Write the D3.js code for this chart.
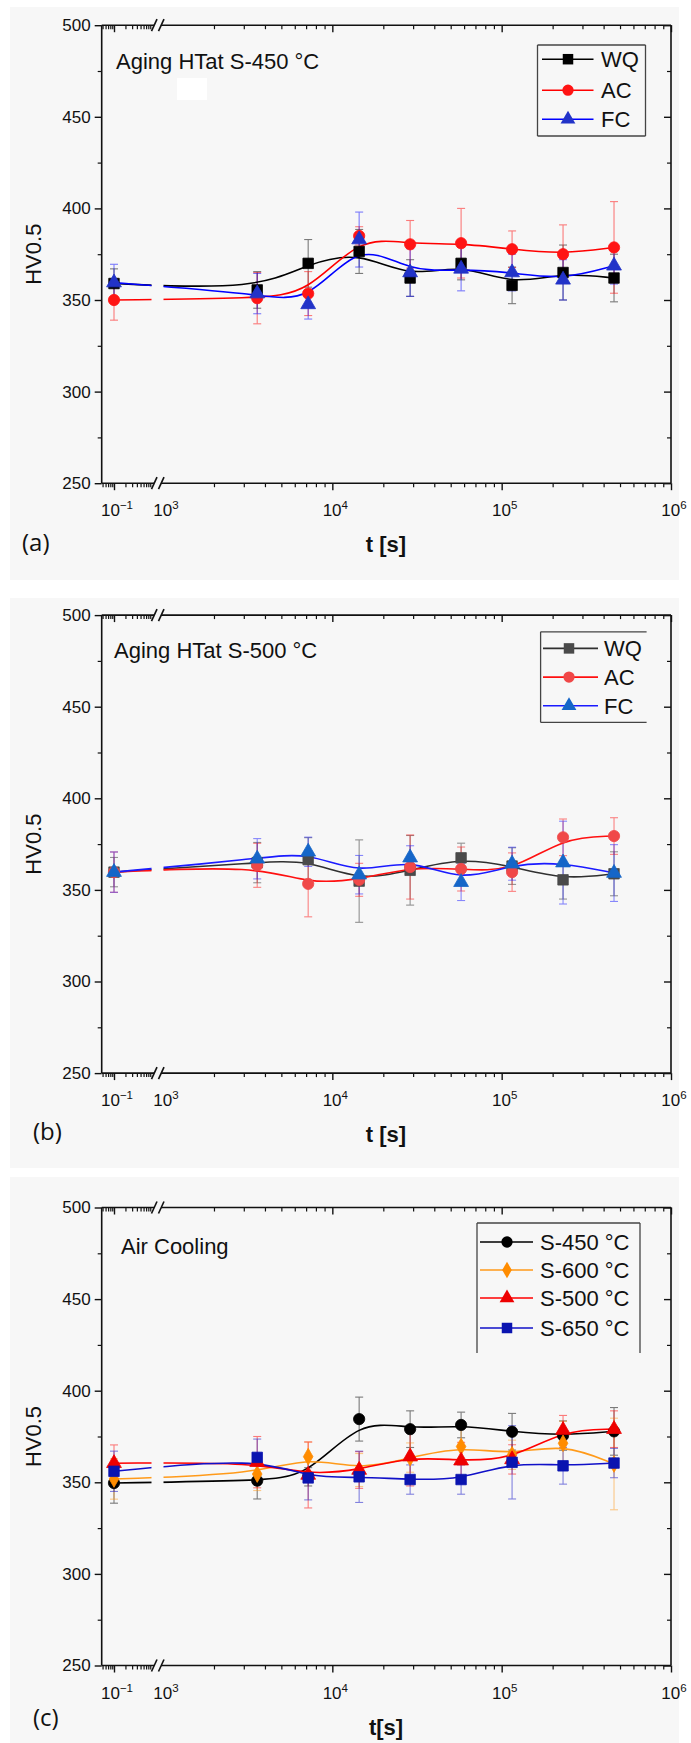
<!DOCTYPE html>
<html><head><meta charset="utf-8">
<script src="https://cdn.jsdelivr.net/npm/d3@7"></script>
<style>body{margin:0;background:#fff}svg{display:block}</style>
</head><body>
<svg id="chart" width="691" height="1743"></svg>
<script>
// ---------------- DATA ----------------
const times = [0.1, 3600, 7200, 14400, 28800, 57600, 115200, 230400, 460800];
const yTicks = [250, 300, 350, 400, 450, 500];
const yMinorTicks = [275, 325, 375, 425, 475];
const xTickValues = [0.1, 1e3, 1e4, 1e5, 1e6];
const xTickExponents = ["\u22121", "3", "4", "5", "6"];
const panelLabels = ["(a)", "(b)", "(c)"];
const annotations = ["Aging HTat S-450 \u00B0C", "Aging HTat S-500 \u00B0C", "Air Cooling"];
const xTitles = ["t [s]", "t [s]", "t[s]"];
const yTitle = "HV0.5";

const namesAB = ["WQ", "AC", "FC"];
const namesC = ["S-450 \u00B0C", "S-600 \u00B0C", "S-500 \u00B0C", "S-650 \u00B0C"];

// panel (a) Aging at S-450
const aWQ = [359, 355.5, 370, 376.5, 362, 370, 358, 365, 362];
const aWQerr = [8, 10, 13, 12, 10, 9, 10, 15, 13];
const aAC = [350, 351, 353.5, 385, 380.4, 381, 377.7, 375, 378.7];
const aACerr = [11, 14, 12, 5, 13, 19, 10, 16, 25];
const aFC = [359.5, 353.5, 347.6, 383, 365, 367, 365, 361, 368.7];
const aFCerr = [10, 11, 8, 15, 13, 12, 10, 11, 10];

// panel (b) Aging at S-500
const bWQ = [359.7, 364.9, 366.5, 354.8, 360.7, 367.5, 363, 355.5, 358.8];
const bWQerr = [8, 11, 12, 22.5, 19, 8, 10, 10.5, 12];
const bAC = [359.7, 363.4, 353.3, 355.5, 362.5, 361.4, 359.7, 378.7, 379.4];
const bACerr = [11, 12, 18, 9, 17.5, 12, 10.5, 10, 10];
const bFC = [359.7, 367, 370.8, 358.3, 367.6, 354.2, 364.3, 364.9, 359.2];
const bFCerr = [11, 11, 8, 10.5, 6.5, 10, 9, 22.6, 15.5];

// panel (c) Air cooling
const c450 = [349.6, 350.9, 353, 384.5, 379, 381.3, 377.6, 375.5, 377.8];
const c450err = [11, 10, 5, 12, 10, 7, 10, 8, 13];
const c600 = [351.8, 354.5, 364, 356.7, 363.5, 369.5, 365, 371.3, 360];
const c600err = [11, 9, 8, 9, 8, 10, 8, 12, 25];
const c500 = [360.4, 361, 354, 356.7, 364, 361.8, 362.5, 378.5, 379];
const c500err = [10, 14, 18, 10, 16, 10, 8, 8, 10];
const c650 = [356, 363.6, 352.4, 353, 351.5, 351.5, 360.9, 359, 360.5];
const c650err = [11, 10, 12, 14, 8, 8, 20, 10, 8];

// ---------------- LAYOUT / STYLE ----------------
const PL = 101.7, PR = 671, PH = 458;
const FONT = "'Liberation Sans', Arial, sans-serif";

const panels = [
  { top: 25.2, bg: [10, 7, 669, 573], labelXY: [22, 551],
    annXY: [116, 69], legend: { x: 537.5, y: 45, w: 108, h: 91, rows: [34, 65, 94], lx: [542, 593.5], mx: 568, tx: 601, sides: "tlbr" },
    patch: [177, 78, 30, 22],
    series: [
      { name: namesAB[0], v: aWQ, e: aWQerr, line: "#000", fill: "#000", sym: d3.symbolSquare, size: 110 },
      { name: namesAB[1], v: aAC, e: aACerr, line: "#ff0000", fill: "#ff1414", sym: d3.symbolCircle, size: 100 },
      { name: namesAB[2], v: aFC, e: aFCerr, line: "#0000ff", fill: "#2233c8", sym: d3.symbolTriangle, size: 95 }
    ] },
  { top: 615.1, bg: [10, 598, 669, 570], labelXY: [33, 1140],
    annXY: [114, 658], legend: { x: 540.6, y: 631.8, w: 106, h: 90.6, rows: [33.3, 62, 90.7], lx: [543, 598], mx: 569, tx: 604, sides: "tlb" },
    series: [
      { name: namesAB[0], v: bWQ, e: bWQerr, line: "#303030", fill: "#4a4a4a", sym: d3.symbolSquare, size: 110 },
      { name: namesAB[1], v: bAC, e: bACerr, line: "#ff1010", fill: "#f04848", sym: d3.symbolCircle, size: 100 },
      { name: namesAB[2], v: bFC, e: bFCerr, line: "#1a1aff", fill: "#1566c8", sym: d3.symbolTriangle, size: 95 }
    ] },
  { top: 1207.5, bg: [10, 1177, 669, 566], labelXY: [33, 1726],
    annXY: [121, 1254], legend: { x: 477, y: 1223, w: 163, h: 130, rows: [34.5, 62.5, 90.5, 120.5], lx: [480, 533], mx: 507, tx: 540, sides: "tlr" },
    series: [
      { name: namesC[0], v: c450, e: c450err, line: "#000", fill: "#000", sym: d3.symbolCircle, size: 100 },
      { name: namesC[1], v: c600, e: c600err, line: "#ff9a1a", fill: "#ff8c00", sym: d3.symbolDiamond, size: 80 },
      { name: namesC[2], v: c500, e: c500err, line: "#ff0000", fill: "#ee0000", sym: d3.symbolTriangle, size: 95 },
      { name: namesC[3], v: c650, e: c650err, line: "#1010c8", fill: "#0a14b0", sym: d3.symbolSquare, size: 110 }
    ] }
];

const svg = d3.select("#chart");

panels.forEach((p, pi) => {
  const g = svg.append("g");
  g.append("rect").attr("x", p.bg[0]).attr("y", p.bg[1]).attr("width", p.bg[2]).attr("height", p.bg[3]).attr("fill", "#f7f7f7");
  if (p.patch) g.append("rect").attr("x", p.patch[0]).attr("y", p.patch[1]).attr("width", p.patch[2]).attr("height", p.patch[3]).attr("fill", "#fff");

  const top = p.top, bottom = p.top + PH;
  const y = d3.scaleLinear().domain([250, 500]).range([bottom, top]);
  const xL = d3.scaleLog().domain([0.1, 1]).range([114, 152]);
  const xR = d3.scaleLog().domain([1e3, 1e6]).range([163, PR]);
  const x = t => (t < 10 ? xL(t) : xR(t));

  // clip for break gap
  const cid = "clip" + pi;
  const cp = svg.append("defs").append("clipPath").attr("id", cid);
  cp.append("rect").attr("x", PL - 5).attr("y", top).attr("width", 151.5 - (PL - 5)).attr("height", PH);
  cp.append("rect").attr("x", 163.5).attr("y", top).attr("width", PR + 5 - 163.5).attr("height", PH);

  // axes
  const styleAxis = (sel, w) => { sel.select(".domain").remove(); sel.selectAll("line").attr("stroke", "#111").attr("stroke-width", w); };
  // left (outward)
  g.append("g").attr("transform", `translate(${PL},0)`).call(d3.axisLeft(y).tickValues(yTicks).tickSize(7).tickPadding(4).tickFormat(d3.format("d")))
    .call(s => styleAxis(s, 1.4))
    .call(s => s.selectAll("text").attr("font-family", FONT).attr("font-size", 17).attr("fill", "#111"));
  g.append("g").attr("transform", `translate(${PL},0)`).call(d3.axisLeft(y).tickValues(yMinorTicks).tickSize(4).tickFormat(""))
    .call(s => styleAxis(s, 1.2));
  // right (inward)
  g.append("g").attr("transform", `translate(${PR},0)`).call(d3.axisLeft(y).tickValues(yTicks).tickSize(7).tickFormat(""))
    .call(s => styleAxis(s, 1.4));
  g.append("g").attr("transform", `translate(${PR},0)`).call(d3.axisLeft(y).tickValues(yMinorTicks).tickSize(4).tickFormat(""))
    .call(s => styleAxis(s, 1.2));

  const leftMinor = [0.05, 0.06, 0.07, 0.08, 0.09, 0.2, 0.3, 0.4, 0.5, 0.6, 0.7, 0.8, 0.9];
  const rightMinor = [];
  [1e3, 1e4, 1e5].forEach(d => { for (let k = 2; k <= 9; k++) rightMinor.push(d * k); });
  const rightMajor = [1e4, 1e5, 1e6];

  [[bottom, d3.axisBottom], [top, d3.axisBottom]].forEach(([yy, ax], i) => {
    g.append("g").attr("transform", `translate(0,${yy})`).call(ax(xL).tickValues([0.1]).tickSize(7).tickFormat("")).call(s => styleAxis(s, 1.4));
    g.append("g").attr("transform", `translate(0,${yy})`).call(ax(xL).tickValues(leftMinor).tickSize(4).tickFormat("")).call(s => styleAxis(s, 1.2));
    g.append("g").attr("transform", `translate(0,${yy})`).call(ax(xR).tickValues(rightMajor).tickSize(7).tickFormat("")).call(s => styleAxis(s, 1.4));
    g.append("g").attr("transform", `translate(0,${yy})`).call(ax(xR).tickValues(rightMinor).tickSize(4).tickFormat("")).call(s => styleAxis(s, 1.2));
  });

  // x tick labels with superscripts
  const lab = g.append("g").attr("font-family", FONT).attr("fill", "#111");
  xTickValues.forEach((v, i) => {
    const t = lab.append("text").attr("x", x(v) + 3).attr("y", bottom + 33).attr("text-anchor", "middle").attr("font-size", 17);
    t.append("tspan").text("10");
    t.append("tspan").attr("dy", -7).attr("font-size", 11.5).text(xTickExponents[i]);
  });

  // frame with break
  const fr = g.append("g").attr("stroke", "#111").attr("stroke-width", 1.6).attr("fill", "none");
  fr.append("line").attr("x1", PL).attr("x2", PL).attr("y1", top).attr("y2", bottom);
  fr.append("line").attr("x1", PR).attr("x2", PR).attr("y1", top).attr("y2", bottom);
  [top, bottom].forEach(yy => {
    fr.append("line").attr("x1", PL).attr("x2", 154).attr("y1", yy).attr("y2", yy);
    fr.append("line").attr("x1", 161).attr("x2", PR).attr("y1", yy).attr("y2", yy);
    fr.append("line").attr("x1", 151.5).attr("x2", 157).attr("y1", yy + 6).attr("y2", yy - 6);
    fr.append("line").attr("x1", 158.5).attr("x2", 164).attr("y1", yy + 6).attr("y2", yy - 6);
  });

  // error bars
  const eg = g.append("g");
  p.series.forEach(s => {
    s.v.forEach((v, i) => {
      const xx = x(times[i]);
      const e = s.e[i];
      const c = eg.append("g").attr("stroke", s.line).attr("stroke-width", 1.1).attr("opacity", 0.5);
      c.append("line").attr("x1", xx).attr("x2", xx).attr("y1", y(v - e)).attr("y2", y(v + e));
      c.append("line").attr("x1", xx - 4).attr("x2", xx + 4).attr("y1", y(v - e)).attr("y2", y(v - e));
      c.append("line").attr("x1", xx - 4).attr("x2", xx + 4).attr("y1", y(v + e)).attr("y2", y(v + e));
    });
  });

  // lines
  const lineGen = d3.line().x(d => x(d.t)).y(d => y(d.v)).curve(d3.curveBasis);
  const lg = g.append("g").attr("clip-path", `url(#${cid})`);
  p.series.forEach(s => {
    const pts = s.v.map((v, i) => ({ t: times[i], v }));
    lg.append("path").attr("d", lineGen(pts)).attr("fill", "none").attr("stroke", s.line).attr("stroke-width", 1.6);
  });

  // markers
  p.series.forEach(s => {
    const sym = d3.symbol().type(s.sym).size(s.size);
    g.append("g").selectAll("path").data(s.v).join("path")
      .attr("d", sym)
      .attr("transform", (v, i) => `translate(${x(times[i])},${y(v)})`)
      .attr("fill", s.fill).attr("stroke", s.fill).attr("stroke-width", 0.8);
  });

  // annotation
  g.append("text").attr("x", p.annXY[0]).attr("y", p.annXY[1]).attr("font-family", FONT).attr("font-size", 22).attr("fill", "#111").text(annotations[pi]);

  // legend
  const L = p.legend;
  const lgd = g.append("g");
  const bx = lgd.append("g").attr("stroke", "#444").attr("stroke-width", 1.3);
  if (L.sides.includes("t")) bx.append("line").attr("x1", L.x).attr("x2", L.x + L.w).attr("y1", L.y).attr("y2", L.y);
  if (L.sides.includes("b")) bx.append("line").attr("x1", L.x).attr("x2", L.x + L.w).attr("y1", L.y + L.h).attr("y2", L.y + L.h);
  if (L.sides.includes("l")) bx.append("line").attr("x1", L.x).attr("x2", L.x).attr("y1", L.y).attr("y2", L.y + L.h);
  if (L.sides.includes("r")) bx.append("line").attr("x1", L.x + L.w).attr("x2", L.x + L.w).attr("y1", L.y).attr("y2", L.y + L.h);
  p.series.forEach((s, i) => {
    const yy = top + L.rows[i];
    lgd.append("line").attr("x1", L.lx[0]).attr("x2", L.lx[1]).attr("y1", yy).attr("y2", yy).attr("stroke", s.line).attr("stroke-width", 1.6);
    lgd.append("path").attr("d", d3.symbol().type(s.sym).size(s.size)()).attr("transform", `translate(${L.mx},${yy})`).attr("fill", s.fill);
    lgd.append("text").attr("x", L.tx).attr("y", yy + 8).attr("font-family", FONT).attr("font-size", 22).attr("fill", "#111").text(s.name);
  });

  // axis titles
  g.append("text").attr("transform", `translate(${41},${(top + bottom) / 2}) rotate(-90)`).attr("text-anchor", "middle")
    .attr("font-family", FONT).attr("font-size", 22).attr("fill", "#111").text(yTitle);
  g.append("text").attr("x", 386).attr("y", bottom + 69).attr("text-anchor", "middle")
    .attr("font-family", FONT).attr("font-size", 22).attr("font-weight", "bold").attr("fill", "#111").text(xTitles[pi]);
  g.append("text").attr("x", p.labelXY[0]).attr("y", p.labelXY[1])
    .attr("font-family", "'Open Sans', 'Liberation Sans', sans-serif").attr("font-size", 24).attr("fill", "#111").text(panelLabels[pi]);
});
</script>
</body></html>
